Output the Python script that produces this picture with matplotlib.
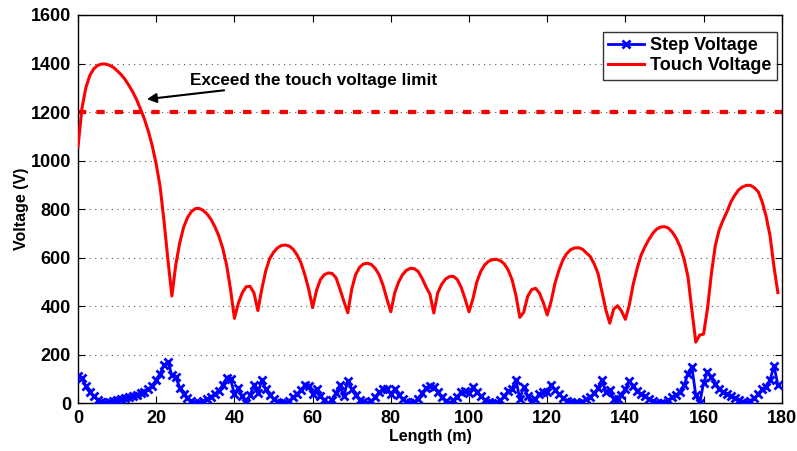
import matplotlib
matplotlib.use("Agg")
import matplotlib.pyplot as plt
import numpy as np

plt.rcParams['font.family'] = ['Liberation Sans', 'DejaVu Sans']
plt.rcParams['font.weight'] = 'bold'

length_m = list(range(0, 180))

step_voltage = [
    112, 104, 70, 45, 28, 14, 4, 2, 7, 11,
    15, 19, 23, 27, 31, 36, 41, 48, 58, 72,
    95, 122, 158, 170, 115, 108, 65, 40, 22, 8,
    0, 3, 10, 18, 27, 38, 52, 75, 103, 100,
    38, 62, 30, 0, 34, 74, 41, 95, 60, 34,
    18, 7, 2, 0, 10, 25, 38, 55, 74, 72,
    39, 60, 32, 14, 0, 15, 42, 75, 30, 93,
    58, 34, 15, 5, 2, 8, 25, 45, 58, 58,
    38, 58, 34, 16, 6, 2, 4, 18, 42, 62,
    72, 66, 46, 24, 8, 0, 12, 27, 46, 51,
    42, 66, 45, 28, 14, 5, 0, 3, 12, 28,
    50, 60, 97, 18, 68, 30, 3, 16, 40, 47,
    48, 74, 55, 37, 21, 11, 4, 1, 0, 6,
    16, 27, 41, 62, 98, 48, 54, 16, 18, 35,
    58, 90, 72, 52, 38, 28, 18, 9, 2, 0,
    3, 12, 24, 35, 46, 74, 122, 151, 34, 0,
    84, 130, 107, 80, 60, 48, 38, 30, 22, 14,
    6, 2, 10, 22, 38, 58, 69, 96, 154, 76,
]

touch_voltage = [
    1057, 1215, 1300, 1350, 1378, 1392, 1398, 1398, 1393, 1385,
    1370, 1355, 1335, 1310, 1283, 1250, 1212, 1170, 1120, 1060,
    985, 892, 750, 590, 442, 570, 660, 725, 765, 790,
    802, 803, 795, 780, 758, 728, 690, 640, 570, 470,
    350, 412, 455, 480, 482, 455, 382, 470, 545, 595,
    622, 640, 650, 652, 648, 635, 612, 580, 530, 470,
    394, 465, 510, 530, 537, 535, 517, 470, 420, 373,
    470, 530, 560, 574, 577, 572, 556, 530, 487, 430,
    377, 455, 500, 530, 548, 556, 555, 543, 515, 480,
    450, 372, 455, 490, 512, 522, 523, 510, 478, 430,
    377, 430, 500, 543, 570, 585, 592, 593, 588, 575,
    550, 510, 445, 354, 375, 440, 468, 474, 455, 415,
    364, 420, 495, 548, 590, 617, 633, 640, 641, 635,
    620, 605, 575, 535, 460, 385, 330, 388, 402, 380,
    346, 405, 490, 555, 610, 645, 675, 700, 718, 726,
    728, 722, 705, 680, 645, 595, 522, 385, 252, 281,
    285, 390, 535, 650, 715, 755, 790, 830, 858, 880,
    892, 898, 898, 888, 871, 830, 770, 690, 563, 456,
]

limit_voltage = 1200
x_range = [0, 180]
y_range = [0, 1600]
x_ticks = [0, 20, 40, 60, 80, 100, 120, 140, 160, 180]
y_ticks = [0, 200, 400, 600, 800, 1000, 1200, 1400, 1600]

fig = plt.figure(figsize=(7.97, 4.51), dpi=100)
ax = fig.add_axes([0.0979, 0.1058, 0.883, 0.861])

ax.plot(length_m, step_voltage, color='#0000ff', lw=2, marker='x',
        markersize=5.5, markeredgewidth=2, label='Step Voltage', zorder=3)
ax.plot(length_m, touch_voltage, color='#ff0000', lw=2.2,
        label='Touch Voltage', zorder=3)
ax.plot(x_range, [limit_voltage, limit_voltage], color='#ff0000', lw=3,
        dashes=(2.0, 2.4), zorder=2)

ax.set_xlim(*x_range)
ax.set_ylim(*y_range)
ax.set_xticks(x_ticks)
ax.set_yticks(y_ticks)
ax.tick_params(direction='in', length=5, width=0.8, top=True, right=True,
               labelsize=13, pad=5)
for lab in ax.get_xticklabels() + ax.get_yticklabels():
    lab.set_fontweight('bold')
ax.yaxis.grid(True, linestyle=(0, (1, 4)), color='#555555', lw=0.8)
ax.set_axisbelow(True)
for s in ax.spines.values():
    s.set_linewidth(1.0)

ax.set_xlabel('Length (m)', fontsize=11.5, fontweight='bold', labelpad=1)
ax.set_ylabel('Voltage (V)', fontsize=11.5, fontweight='bold', labelpad=1)

ax.annotate('Exceed the touch voltage limit', xy=(17.6, 1253), xytext=(28.6, 1332),
            fontsize=12.3, fontweight='bold', va='center', ha='left',
            arrowprops=dict(arrowstyle='-|>', color='black', lw=1.5,
                            mutation_scale=14, shrinkA=0, shrinkB=0))

leg = ax.legend(loc='upper right', fontsize=13, frameon=True, fancybox=False,
                edgecolor='black', handlelength=2.0, handletextpad=0.35,
                borderpad=0.3, labelspacing=0.15, numpoints=1,
                bbox_to_anchor=(0.9935, 0.956), borderaxespad=0)
leg.get_frame().set_linewidth(1.0)
for t in leg.get_texts():
    t.set_fontweight('bold')

fig.savefig('out.png', dpi=100)
